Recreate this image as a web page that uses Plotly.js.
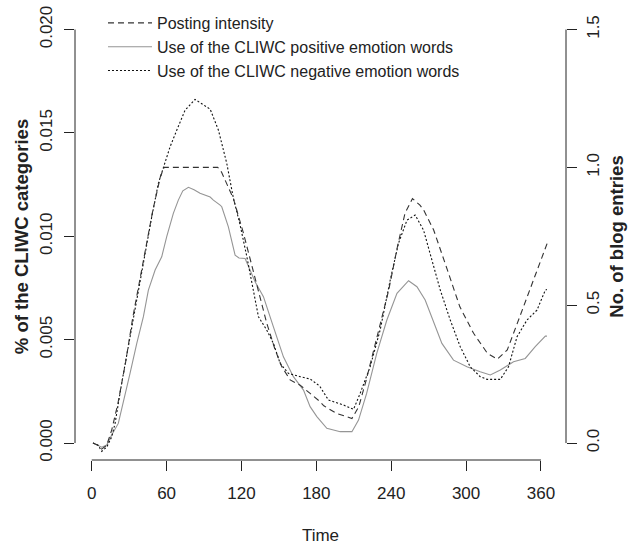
<!DOCTYPE html>
<html>
<head>
<meta charset="utf-8">
<script src="https://cdn.plot.ly/plotly-3.0.1.min.js"></script>
<style>html,body{margin:0;padding:0;background:#fff}#chart{width:636px;height:547px}</style>
</head>
<body>
<div id="chart"></div>
<script>
// Posting intensity (No. of blog entries, right axis)
var timePosting = [1,5,8,12,16,21,27,33,39,44,49,55,58,70,80,90,101,104,113.5,121.6,127,133.6,140.3,147,152.3,159,167,175,183,186,196,208.5,214,220,228,238,245,251,257,263,266,271,274,285,295,306,317,325,333,343,354,363.5,365];
var posting = [0.0,-0.008,-0.022,-0.008,0.047,0.144,0.289,0.458,0.603,0.725,0.845,0.966,1.0,1.0,1.0,1.0,1.0,0.983,0.887,0.761,0.664,0.555,0.434,0.338,0.277,0.229,0.21,0.18,0.15,0.135,0.108,0.089,0.132,0.229,0.374,0.555,0.713,0.833,0.887,0.863,0.845,0.797,0.773,0.628,0.494,0.398,0.326,0.304,0.338,0.458,0.591,0.70,0.725];

// Use of the CLIWC positive emotion words (% , left axis)
var timePositive = [1,5,8,12,16,21.3,25.3,30.7,36.1,41.4,45.4,50.8,56.1,60.1,65.4,69.4,73,77.5,82,86.8,94.9,97.5,102.9,104.2,109.5,114.9,118,122.9,130.9,137.6,145.6,153.6,161.6,169.7,175,180.4,188.4,199.1,208.5,213.8,220.3,228.4,236.5,244.6,253.9,260.6,267.2,271.3,280.6,289.9,300.7,311.3,319.4,327.4,338,347.4,355.4,363.5,364.8];
var positive = [0.0,-0.0001,-0.0002,-0.0001,0.00039,0.00095,0.00192,0.00337,0.00482,0.00611,0.0074,0.00837,0.00901,0.00998,0.01111,0.01175,0.0122,0.01237,0.01225,0.01208,0.0119,0.01175,0.01151,0.01143,0.01046,0.00909,0.00895,0.00893,0.0078,0.00708,0.00562,0.00417,0.00321,0.00256,0.00176,0.00128,0.00071,0.00055,0.00055,0.00111,0.0024,0.00434,0.00595,0.00724,0.00785,0.00756,0.00692,0.00627,0.00482,0.00401,0.00369,0.00345,0.00329,0.00353,0.00393,0.00409,0.00466,0.00517,0.00517];

// Use of the CLIWC negative emotion words (% , left axis)
var timeNegative = [1,5,8,12,16,18.7,24,30.7,37.4,42.7,48.1,53.4,57.4,62.8,68.2,74.8,82.8,89,94.9,101.5,108.2,113.5,118.9,124.3,129.6,133.6,140.3,145.6,151,157.6,167,175,181.7,183,189.7,201.7,209.8,215.1,223.1,231.1,239.2,245.8,252.6,259.2,265.9,271.3,279.3,287.3,295.3,303.3,311.3,316.7,327.4,334,340.8,348.8,356.8,363.5,364.8];
var negative = [0.0,-0.0001,-0.0004,-0.0002,0.0003,0.00095,0.00289,0.00514,0.0074,0.00933,0.01094,0.01256,0.01336,0.01433,0.01514,0.0161,0.01662,0.0164,0.01615,0.01514,0.01353,0.01185,0.01055,0.00901,0.0074,0.00611,0.00546,0.00482,0.00385,0.00337,0.00321,0.0031,0.0028,0.00272,0.00208,0.00184,0.00163,0.0024,0.00369,0.00546,0.00788,0.00966,0.01078,0.01103,0.0103,0.0091,0.0074,0.00595,0.00466,0.00369,0.00321,0.00308,0.00308,0.00369,0.00514,0.00595,0.00643,0.0074,0.00743];

var xTicks = [0,60,120,180,240,300,360];
var yTicks = [0,0.005,0.010,0.015,0.020];
var y2Ticks = [0,0.5,1.0,1.5];

var seriesNames = ["Posting intensity","Use of the CLIWC positive emotion words","Use of the CLIWC negative emotion words"];

var FONT = "Liberation Sans, Arial, sans-serif";
var AX = "#222";

var traces = [
  {x: timePosting, y: posting, yaxis: "y2", name: seriesNames[0], mode: "lines",
   line: {color: "#333", width: 1.1, dash: "6px,4px"}},
  {x: timePositive, y: positive, name: seriesNames[1], mode: "lines",
   line: {color: "#959595", width: 1.1}},
  {x: timeNegative, y: negative, name: seriesNames[2], mode: "lines",
   line: {color: "#111", width: 1.1, dash: "2px,2px"}}
];

var layout = {
  width: 636, height: 547,
  margin: {l: 75, r: 70.3, t: 12.9, b: 87, pad: 0, autoexpand: false},
  paper_bgcolor: "#fff", plot_bgcolor: "#fff",
  font: {family: FONT, color: AX, size: 17},
  showlegend: true,
  legend: {x: 0.057, y: 0.989, yref: "container", xanchor: "left", yanchor: "top", bgcolor: "rgba(0,0,0,0)",
           borderwidth: 0, itemwidth: 44, font: {family: FONT, size: 16, color: AX}, tracegroupgap: 0},
  xaxis: {range: [-13.4, 380.05], tickvals: xTicks, ticktext: xTicks.map(String),
          ticks: "outside", ticklen: 10, tickcolor: AX, tickwidth: 1, showgrid: false, zeroline: false,
          showline: false, tickfont: {size: 17}, ticklabelstandoff: 8,
          title: {text: "Time", font: {size: 17}, standoff: 26}},
  yaxis: {range: [-0.00082, 0.0208], tickvals: yTicks, ticktext: yTicks.map(function(v){return v.toFixed(3);}),
          ticks: "outside", ticklen: 10, tickcolor: AX, tickwidth: 1, showgrid: false, zeroline: false,
          showline: false, tickangle: -90, tickfont: {size: 17}, ticklabelstandoff: 5,
          title: {text: "<b>% of the CLIWC categories</b>", font: {size: 18.5}, standoff: 3}},
  yaxis2: {range: [-0.0615, 1.56], overlaying: "y", side: "right", tickvals: y2Ticks,
           ticktext: y2Ticks.map(function(v){return v.toFixed(1);}),
           ticks: "outside", ticklen: 10, tickcolor: AX, tickwidth: 1, showgrid: false, zeroline: false,
           showline: false, tickangle: -90, tickfont: {size: 17}, ticklabelstandoff: 2,
           title: {text: "<b>No. of blog entries</b>", font: {size: 18.5}, standoff: 7}},
  shapes: [
    {type: "line", xref: "x", yref: "paper", x0: xTicks[0], x1: xTicks[xTicks.length-1], y0: 0, y1: 0,
     line: {color: AX, width: 1}},
    {type: "line", xref: "paper", yref: "y", x0: 0, x1: 0, y0: yTicks[0], y1: yTicks[yTicks.length-1],
     line: {color: AX, width: 1}},
    {type: "line", xref: "paper", yref: "y2", x0: 1, x1: 1, y0: y2Ticks[0], y1: y2Ticks[y2Ticks.length-1],
     line: {color: AX, width: 1}}
  ]
};

Plotly.newPlot("chart", traces, layout, {staticPlot: true, displayModeBar: false});
</script>
</body>
</html>
